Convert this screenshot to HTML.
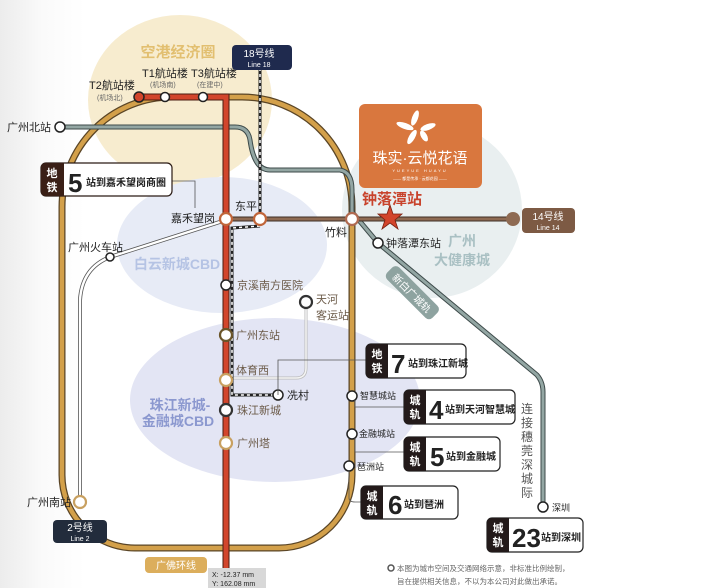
<!DOCTYPE html>
<html><head><meta charset="utf-8"><style>
html,body{margin:0;padding:0;background:#fff;}
svg{display:block;}
text{font-family:"Liberation Sans","Noto Sans CJK SC",sans-serif;}
</style></head><body>
<svg width="708" height="588" viewBox="0 0 708 588" xmlns="http://www.w3.org/2000/svg">
<defs><linearGradient id="bg" x1="0" x2="1"><stop offset="0" stop-color="#ececec"/><stop offset="0.06" stop-color="#fafafa"/><stop offset="0.12" stop-color="#fff"/></linearGradient></defs>
<rect width="708" height="588" fill="url(#bg)"/>
<ellipse cx="180" cy="100" rx="92" ry="85" fill="#f7eccf"/>
<ellipse cx="222" cy="245" rx="105" ry="68" fill="#e7ebf6"/>
<ellipse cx="275" cy="400" rx="145" ry="82" fill="#e3e5f4"/>
<ellipse cx="432" cy="210" rx="90" ry="88" fill="#e9eff0"/>
<text x="178" y="57" font-size="15" font-weight="bold" fill="#e2bf70" text-anchor="middle">空港经济圈</text>
<text x="177" y="269" font-size="14" font-weight="bold" fill="#b5c3e4" text-anchor="middle">白云新城CBD</text>
<text x="180" y="410" font-size="14" font-weight="bold" fill="#8b98cf" text-anchor="middle">珠江新城-</text>
<text x="178" y="426" font-size="14" font-weight="bold" fill="#8b98cf" text-anchor="middle">金融城CBD</text>
<text x="462" y="246" font-size="14" font-weight="bold" fill="#a9c0c3" text-anchor="middle">广州</text>
<text x="462" y="265" font-size="14" font-weight="bold" fill="#a9c0c3" text-anchor="middle">大健康城</text>
<path d="M62,207 A110,110 0 0 1 172,97 L242,97 A110,110 0 0 1 352,207 L352,475 A73,73 0 0 1 279,548 L135,548 A73,73 0 0 1 62,475 Z" fill="none" stroke="#5a4526" stroke-width="7"/>
<path d="M62,207 A110,110 0 0 1 172,97 L242,97 A110,110 0 0 1 352,207 L352,475 A73,73 0 0 1 279,548 L135,548 A73,73 0 0 1 62,475 Z" fill="none" stroke="#d3a04a" stroke-width="4.5"/>
<path d="M60,127 L235,127 Q248,127 250,140 Q254,170 270,170 L340,170 Q352,172 352,190 L352,212 L378,243 L537,375 Q543,382 543,392 L543,507" fill="none" stroke="#3d4a4a" stroke-width="5"/>
<path d="M60,127 L235,127 Q248,127 250,140 Q254,170 270,170 L340,170 Q352,172 352,190 L352,212 L378,243 L537,375 Q543,382 543,392 L543,507" fill="none" stroke="#93a6a3" stroke-width="3"/>
<path d="M226,220 L110,257 Q82,268 80,300 L80,502" fill="none" stroke="#555" stroke-width="4"/>
<path d="M226,220 L110,257 Q82,268 80,300 L80,502" fill="none" stroke="#fff" stroke-width="2.4"/>
<path d="M306,302 L306,368 Q306,378 296,378 L226,378" fill="none" stroke="#bbb" stroke-width="3"/>
<path d="M306,302 L306,368 Q306,378 296,378 L226,378" fill="none" stroke="#f4f4f4" stroke-width="1.5"/>
<line x1="226" y1="219" x2="513" y2="219" stroke="#3e2f25" stroke-width="5"/>
<line x1="226" y1="219" x2="513" y2="219" stroke="#8e6a52" stroke-width="3"/>
<circle cx="513" cy="219" r="7" fill="#8e6a52"/>
<rect x="522" y="208" width="53" height="25" rx="4" fill="#7d5a44"/>
<text x="548" y="220" font-size="10" fill="#fff" text-anchor="middle">14号线</text>
<text x="548" y="230" font-size="7" fill="#fff" text-anchor="middle">Line 14</text>
<line x1="260" y1="68" x2="260" y2="219" stroke="#222" stroke-width="3"/>
<line x1="260" y1="68" x2="260" y2="219" stroke="#fff" stroke-width="1.5" stroke-dasharray="3,3"/>
<path d="M260,226 L232,228 L232,395 L278,395" fill="none" stroke="#222" stroke-width="3"/>
<path d="M260,226 L232,228 L232,395 L278,395" fill="none" stroke="#fff" stroke-width="1.5" stroke-dasharray="3,3"/>
<path d="M139,97 L226,97 L226,588" fill="none" stroke="#4a1d12" stroke-width="7"/>
<path d="M139,97 L226,97 L226,588" fill="none" stroke="#d2452c" stroke-width="5"/>
<g stroke="#222" stroke-width="1.5" fill="#fff">
<circle cx="139" cy="97" r="5" fill="#d2452c"/>
<circle cx="165" cy="97" r="4.5"/>
<circle cx="203" cy="97" r="4.5"/>
<circle cx="60" cy="127" r="5"/>
<circle cx="110" cy="257" r="4"/>
<circle cx="378" cy="243" r="5"/>
<circle cx="543" cy="507" r="5"/>
<circle cx="278" cy="395" r="5"/>
<circle cx="226" cy="285" r="5"/>
<circle cx="352" cy="396" r="5"/>
<circle cx="352" cy="434" r="5"/>
<circle cx="349" cy="466" r="5"/>
</g>
<g fill="#fff" stroke-width="2.2">
<circle cx="226" cy="219" r="6" stroke="#c0653a"/>
<circle cx="260" cy="219" r="6" stroke="#c0653a"/>
<circle cx="352" cy="219" r="6" stroke="#b06a50"/>
<circle cx="226" cy="335" r="6" stroke="#6a5428"/>
<circle cx="226" cy="380" r="6" stroke="#c8a060"/>
<circle cx="226" cy="410" r="6" stroke="#333"/>
<circle cx="226" cy="443" r="6" stroke="#c8a060"/>
<circle cx="306" cy="302" r="6" stroke="#333"/>
<circle cx="80" cy="502" r="6" stroke="#c8a060"/>
</g>
<polygon points="390,205 393,214 402,214 395,220 398,229 390,223 382,229 385,220 378,214 387,214" fill="#d2452c" stroke="#7a2010" stroke-width="0.8"/>
<text x="362" y="204" font-size="15" font-weight="bold" fill="#c8432c">钟落潭站</text>
<g font-size="11" fill="#222">
<text x="51" y="131" text-anchor="end">广州北站</text>
<text x="68" y="251">广州火车站</text>
<text x="171" y="222">嘉禾望岗</text>
<text x="235" y="210">东平</text>
<text x="325" y="236">竹料</text>
<text x="386" y="247">钟落潭东站</text>
<text x="287" y="399">冼村</text>
<text x="71" y="506" text-anchor="end">广州南站</text>
<text x="89" y="89">T2航站楼</text>
<text x="142" y="77">T1航站楼</text>
<text x="191" y="77">T3航站楼</text>
</g>
<g font-size="7" fill="#666">
<text x="97" y="100">(机场北)</text>
<text x="150" y="87">(机场南)</text>
<text x="197" y="87">(在建中)</text>
</g>
<g font-size="11" fill="#6b5a48">
<text x="237" y="289">京溪南方医院</text>
<text x="316" y="303">天河</text>
<text x="316" y="319">客运站</text>
<text x="236" y="339">广州东站</text>
<text x="236" y="374">体育西</text>
<text x="237" y="414">珠江新城</text>
<text x="237" y="447">广州塔</text>
</g>
<g font-size="9" fill="#222">
<text x="360" y="399">智慧城站</text>
<text x="359" y="437">金融城站</text>
<text x="357" y="470">琶洲站</text>
<text x="552" y="511">深圳</text>
</g>
<g font-size="12" fill="#555" text-anchor="middle">
<text x="527" y="413">连</text><text x="527" y="427">接</text><text x="527" y="441">穗</text><text x="527" y="455">莞</text><text x="527" y="469">深</text><text x="527" y="483">城</text><text x="527" y="497">际</text>
</g>
<g transform="translate(412,293) rotate(45)">
<rect x="-32" y="-9" width="64" height="17" rx="5" fill="#8ea3a0"/>
<text x="0" y="4" font-size="10" fill="#fff" text-anchor="middle">新白广城轨</text>
</g>
<g fill="none" stroke="#555" stroke-width="0.8">
<path d="M172,181 L195,181 L195,208"/>
<path d="M278,395 L278,360 L366,360"/>
<path d="M355,400 L355,407 L404,407"/>
<path d="M355,438 L355,452 L404,452"/>
<path d="M349,471 L349,498 Q349,502 355,502 L361,502"/>
</g>
<g font-weight="bold">
<rect x="41" y="163" width="131" height="33" rx="5" fill="#fff" stroke="#2a1a14" stroke-width="1.2"/>
<path d="M46,163 L64,163 L64,196 L46,196 Q41,196 41,191 L41,168 Q41,163 46,163Z" fill="#3a1f16"/>
<text x="52" y="177" font-size="11" fill="#fff" text-anchor="middle">地</text><text x="52" y="191" font-size="11" fill="#fff" text-anchor="middle">铁</text>
<text x="68" y="192" font-size="26" fill="#222">5</text><text x="86" y="186" font-size="10" fill="#222">站到嘉禾望岗商圈</text>
<rect x="366" y="344" width="100" height="34" rx="5" fill="#fff" stroke="#222" stroke-width="1.2"/>
<path d="M371,344 L388,344 L388,378 L371,378 Q366,378 366,373 L366,349 Q366,344 371,344Z" fill="#231a1a"/>
<text x="377" y="358" font-size="11" fill="#fff" text-anchor="middle">地</text><text x="377" y="372" font-size="11" fill="#fff" text-anchor="middle">铁</text>
<text x="391" y="373" font-size="26" fill="#222">7</text><text x="408" y="367" font-size="10" fill="#222">站到珠江新城</text>
<rect x="404" y="390" width="111" height="34" rx="5" fill="#fff" stroke="#222" stroke-width="1.2"/>
<path d="M409,390 L426,390 L426,424 L409,424 Q404,424 404,419 L404,395 Q404,390 409,390Z" fill="#231a1a"/>
<text x="415" y="404" font-size="11" fill="#fff" text-anchor="middle">城</text><text x="415" y="418" font-size="11" fill="#fff" text-anchor="middle">轨</text>
<text x="429" y="419" font-size="26" fill="#222">4</text><text x="445" y="413" font-size="10" fill="#222">站到天河智慧城</text>
<rect x="404" y="437" width="96" height="34" rx="5" fill="#fff" stroke="#222" stroke-width="1.2"/>
<path d="M409,437 L426,437 L426,471 L409,471 Q404,471 404,466 L404,442 Q404,437 409,437Z" fill="#231a1a"/>
<text x="415" y="451" font-size="11" fill="#fff" text-anchor="middle">城</text><text x="415" y="465" font-size="11" fill="#fff" text-anchor="middle">轨</text>
<text x="430" y="466" font-size="26" fill="#222">5</text><text x="446" y="460" font-size="10" fill="#222">站到金融城</text>
<rect x="361" y="486" width="97" height="33" rx="5" fill="#fff" stroke="#222" stroke-width="1.2"/>
<path d="M366,486 L383,486 L383,519 L366,519 Q361,519 361,514 L361,491 Q361,486 366,486Z" fill="#231a1a"/>
<text x="372" y="500" font-size="11" fill="#fff" text-anchor="middle">城</text><text x="372" y="514" font-size="11" fill="#fff" text-anchor="middle">轨</text>
<text x="388" y="514" font-size="26" fill="#222">6</text><text x="404" y="508" font-size="10" fill="#222">站到琶洲</text>
<rect x="487" y="518" width="96" height="34" rx="5" fill="#fff" stroke="#222" stroke-width="1.2"/>
<path d="M492,518 L509,518 L509,552 L492,552 Q487,552 487,547 L487,523 Q487,518 492,518Z" fill="#231a1a"/>
<text x="498" y="532" font-size="11" fill="#fff" text-anchor="middle">城</text><text x="498" y="546" font-size="11" fill="#fff" text-anchor="middle">轨</text>
<text x="512" y="547" font-size="26" fill="#222">23</text><text x="541" y="541" font-size="10" fill="#222">站到深圳</text>
</g>
<rect x="232" y="45" width="60" height="25" rx="4" fill="#1f2a4e"/>
<text x="259" y="57" font-size="10" fill="#fff" text-anchor="middle">18号线</text>
<text x="259" y="67" font-size="7" fill="#fff" text-anchor="middle">Line 18</text>
<rect x="53" y="520" width="54" height="23" rx="4" fill="#222c3c"/>
<text x="80" y="531" font-size="10" fill="#fff" text-anchor="middle">2号线</text>
<text x="80" y="541" font-size="7" fill="#fff" text-anchor="middle">Line 2</text>
<rect x="145" y="557" width="62" height="16" rx="4" fill="#dcae5c"/>
<text x="176" y="569" font-size="10" fill="#fff" text-anchor="middle">广佛环线</text>
<rect x="208" y="568" width="58" height="20" fill="#d8d8d8"/>
<text x="212" y="577" font-size="7" fill="#222">X: -12.37 mm</text>
<text x="212" y="586" font-size="7" fill="#222">Y: 162.08 mm</text>
<rect x="359" y="104" width="123" height="84" rx="6" fill="#d9773e"/>
<g fill="#fff">
<ellipse cx="415" cy="118" rx="3" ry="8" transform="rotate(20 415 118)"/>
<ellipse cx="405" cy="126" rx="9" ry="3" transform="rotate(20 405 126)"/>
<ellipse cx="428" cy="127" rx="8" ry="3" transform="rotate(-20 428 127)"/>
<ellipse cx="412" cy="137" rx="3" ry="8" transform="rotate(30 412 137)"/>
<ellipse cx="424" cy="136" rx="3" ry="6" transform="rotate(-30 424 136)"/>
</g>
<text x="420" y="163" font-size="15" fill="#fff" text-anchor="middle">珠实·云悦花语</text>
<text x="420" y="172" font-size="4" fill="#fff" text-anchor="middle" letter-spacing="2">YUEYUE HUAYU</text>
<text x="420" y="180" font-size="4" fill="#fff" text-anchor="middle">—— 都是传承 · 云都花园 ——</text>
<circle cx="391" cy="568" r="3" fill="none" stroke="#555" stroke-width="1.5"/>
<text x="397" y="571" font-size="7.5" fill="#666">本图为城市空间及交通网络示意，非标准比例绘制，</text>
<text x="397" y="584" font-size="7.5" fill="#666">旨在提供相关信息，不以为本公司对此做出承诺。</text>
</svg>
</body></html>
